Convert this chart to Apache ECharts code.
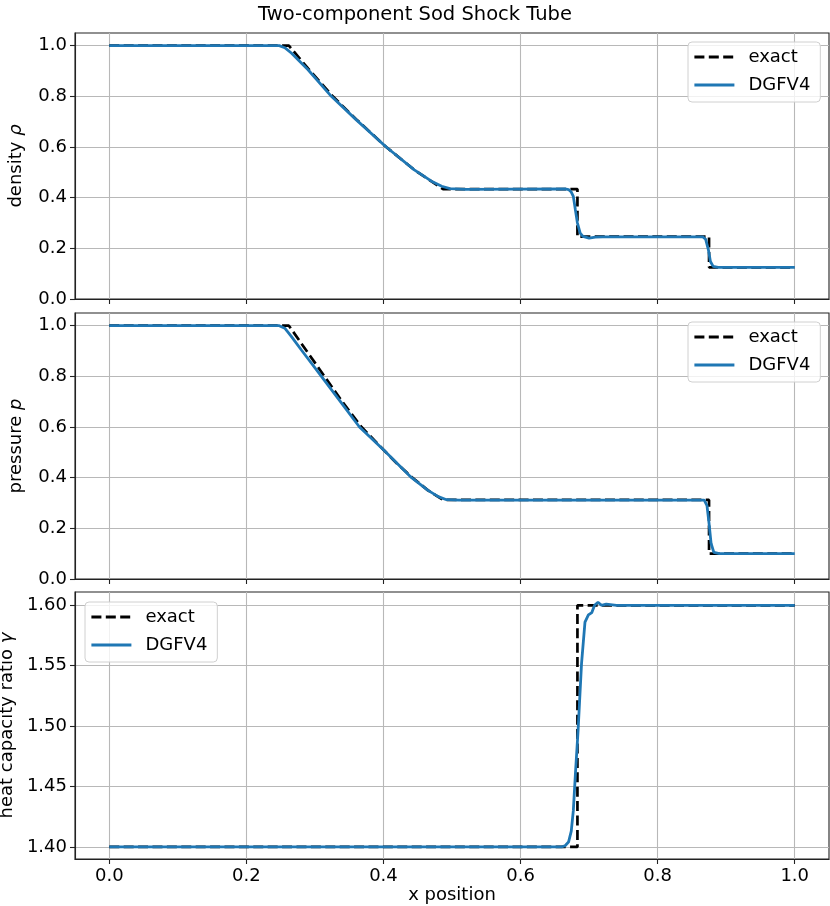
<!DOCTYPE html>
<html>
<head>
<meta charset="utf-8">
<title>Two-component Sod Shock Tube</title>
<script src="https://cdn.jsdelivr.net/npm/echarts@6/dist/echarts.min.js"></script>
<style>
    html, body { margin: 0; padding: 0; background: #fff; }
    #main { width: 830px; height: 906px; }
</style>
</head>
<body>
<div id="main"></div>
<script>
// tick labels
var xTicks = [0, 0.2, 0.4, 0.6, 0.8, 1.0];
var rhoTicks = [0, 0.2, 0.4, 0.6, 0.8, 1.0];
var pTicks = [0, 0.2, 0.4, 0.6, 0.8, 1.0];
var gammaTicks = [1.40, 1.45, 1.50, 1.55, 1.60];

// density - exact
var densExactX = [0, 0.262, 0.29, 0.326, 0.36, 0.404, 0.445, 0.487, 0.683, 0.683, 0.875, 0.875, 1.0];
var densExactY = [1.0, 1.0, 0.91, 0.80, 0.71, 0.60, 0.51, 0.434, 0.434, 0.246, 0.246, 0.125, 0.125];
// density - DGFV4
var densNumX = [0, 0.248, 0.256, 0.266, 0.29, 0.324, 0.36, 0.404, 0.445, 0.47, 0.485, 0.497, 0.52, 0.665, 0.670, 0.674,
    0.677, 0.680, 0.683, 0.687, 0.691, 0.700, 0.709, 0.72, 0.866, 0.870, 0.874, 0.877, 0.881, 0.888, 1.0];
var densNumY = [1.0, 1.0, 0.992, 0.97, 0.905, 0.80, 0.708, 0.60, 0.51, 0.465, 0.445, 0.436, 0.433, 0.435, 0.432, 0.422,
    0.405, 0.352, 0.30, 0.26, 0.247, 0.240, 0.244, 0.245, 0.245, 0.236, 0.195, 0.148, 0.129, 0.125, 0.125];

// pressure - exact
var presExactX = [0, 0.262, 0.288, 0.314, 0.34, 0.368, 0.40, 0.42, 0.442, 0.465, 0.487, 0.875, 0.875, 1.0];
var presExactY = [1.0, 1.0, 0.90, 0.80, 0.70, 0.60, 0.51, 0.455, 0.40, 0.35, 0.312, 0.312, 0.10, 0.10];
// pressure - DGFV4
var presNumX = [0, 0.248, 0.256, 0.265, 0.28, 0.3095, 0.34, 0.365, 0.40, 0.441, 0.465, 0.48, 0.492, 0.51,
    0.868, 0.872, 0.875, 0.878, 0.882, 0.89, 1.0];
var presNumY = [1.0, 1.0, 0.99, 0.96, 0.905, 0.80, 0.69, 0.60, 0.51, 0.40, 0.35, 0.325, 0.313, 0.311,
    0.311, 0.29, 0.22, 0.14, 0.105, 0.10, 0.10];

// heat capacity ratio - exact
var gamExactX = [0, 0.683, 0.683, 1.0];
var gamExactY = [1.4, 1.4, 1.6, 1.6];
// heat capacity ratio - DGFV4
var gamNumX = [0, 0.660, 0.665, 0.670, 0.674, 0.677, 0.680, 0.684, 0.689, 0.694, 0.699, 0.704, 0.708, 0.713,
    0.718, 0.725, 0.74, 1.0];
var gamNumY = [1.4, 1.4, 1.401, 1.404, 1.413, 1.430, 1.46, 1.497, 1.552, 1.586, 1.592, 1.594, 1.600, 1.6025,
    1.600, 1.601, 1.600, 1.600];

var FONT = 'DejaVu Sans';
var BLUE = '#1f77b4';

function pairs(xs, ys) {
    return xs.map(function (x, i) { return [x, ys[i]]; });
}

function makeX(idx, showLabel) {
    return {
        type: 'value',
        gridIndex: idx,
        min: -0.05,
        max: 1.05,
        name: showLabel ? 'x position' : '',
        nameLocation: 'middle',
        nameGap: 24,
        nameTextStyle: { fontFamily: FONT, fontSize: 18, color: '#000' },
        axisLine: { show: true, onZero: false, lineStyle: { color: '#222', width: 1.1 } },
        axisTick: { show: true, length: 5, customValues: xTicks, lineStyle: { color: '#222', width: 1.1 } },
        axisLabel: {
            show: showLabel, margin: 8, customValues: xTicks,
            fontFamily: FONT, fontSize: 18, color: '#000',
            formatter: function (v) { return v.toFixed(1); }
        },
        splitLine: { show: true, lineStyle: { color: '#b8b8b8', width: 1.1 } }
    };
}

function makeY(idx, min, max, ticks, digits, label, sym) {
    return {
        type: 'value',
        gridIndex: idx,
        min: min,
        max: max,
        name: '{n|' + label + ' }{i|' + sym + '}',
        nameLocation: 'middle',
        nameGap: 50,
        nameTextStyle: {
            rich: {
                n: { fontFamily: FONT, fontSize: 18, color: '#000' },
                i: { fontFamily: FONT, fontSize: 18, color: '#000', fontStyle: 'italic' }
            }
        },
        axisLine: { show: true, onZero: false, lineStyle: { color: '#222', width: 1.1 } },
        axisTick: { show: true, length: 5, customValues: ticks, lineStyle: { color: '#222', width: 1.1 } },
        axisLabel: {
            margin: 8, customValues: ticks,
            fontFamily: FONT, fontSize: 18, color: '#000',
            formatter: function (v) { return v.toFixed(digits); }
        },
        splitLine: { show: true, lineStyle: { color: '#b8b8b8', width: 1.1 } }
    };
}

function makeLegend(left, top) {
    return {
        left: left,
        top: top,
        orient: 'vertical',
        data: ['exact', 'DGFV4'],
        itemWidth: 40,
        itemHeight: 14,
        itemGap: 10,
        padding: [6, 10, 8, 5],
        backgroundColor: 'rgba(255,255,255,0.8)',
        borderColor: '#d0d0d0',
        borderWidth: 1,
        borderRadius: 4,
        selectedMode: false,
        // hide the symbol, keep only the line
        itemStyle: { opacity: 0 },
        lineStyle: { width: 2.8 },
        textStyle: { fontFamily: FONT, fontSize: 18, color: '#000', lineHeight: 18, padding: [0, 0, 0, 9] }
    };
}

function exactSeries(idx, data) {
    return {
        name: 'exact',
        type: 'line',
        xAxisIndex: idx,
        yAxisIndex: idx,
        data: data,
        symbol: 'none',
        z: 2,
        lineStyle: { color: '#000', width: 2.7, type: [10, 4.4] },
        itemStyle: { color: '#000' }
    };
}

function numSeries(idx, data) {
    return {
        name: 'DGFV4',
        type: 'line',
        xAxisIndex: idx,
        yAxisIndex: idx,
        data: data,
        symbol: 'none',
        z: 3,
        lineStyle: { color: BLUE, width: 2.8 },
        itemStyle: { color: BLUE }
    };
}

var gridBase = { left: 75, right: 1, show: true, borderColor: '#222', borderWidth: 1.1,
    backgroundColor: 'transparent', outerBoundsMode: 'none', containLabel: false };

var chartDom = document.getElementById('main');
var myChart = echarts.init(chartDom, null, { renderer: 'canvas' });
var option = {
    animation: false,
    backgroundColor: '#fff',
    title: {
        text: 'Two-component Sod Shock Tube',
        left: 'center',
        top: 0,
        textStyle: { fontFamily: FONT, fontSize: 19.5, fontWeight: 'normal', color: '#000' }
    },
    legend: [
        makeLegend(688, 42),
        makeLegend(688, 322),
        makeLegend(85, 602)
    ],
    grid: [
        Object.assign({}, gridBase, { top: 33, height: 266 }),
        Object.assign({}, gridBase, { top: 313, height: 266 }),
        Object.assign({}, gridBase, { top: 592, height: 267 })
    ],
    xAxis: [makeX(0, false), makeX(1, false), makeX(2, true)],
    yAxis: [
        makeY(0, 0, 1.05, rhoTicks, 1, 'density', 'ρ'),
        makeY(1, 0, 1.05, pTicks, 1, 'pressure', 'p'),
        makeY(2, 1.39, 1.611, gammaTicks, 2, 'heat capacity ratio', 'γ')
    ],
    series: [
        exactSeries(0, pairs(densExactX, densExactY)),
        numSeries(0, pairs(densNumX, densNumY)),
        exactSeries(1, pairs(presExactX, presExactY)),
        numSeries(1, pairs(presNumX, presNumY)),
        exactSeries(2, pairs(gamExactX, gamExactY)),
        numSeries(2, pairs(gamNumX, gamNumY))
    ]
};
myChart.setOption(option);
</script>
</body>
</html>
